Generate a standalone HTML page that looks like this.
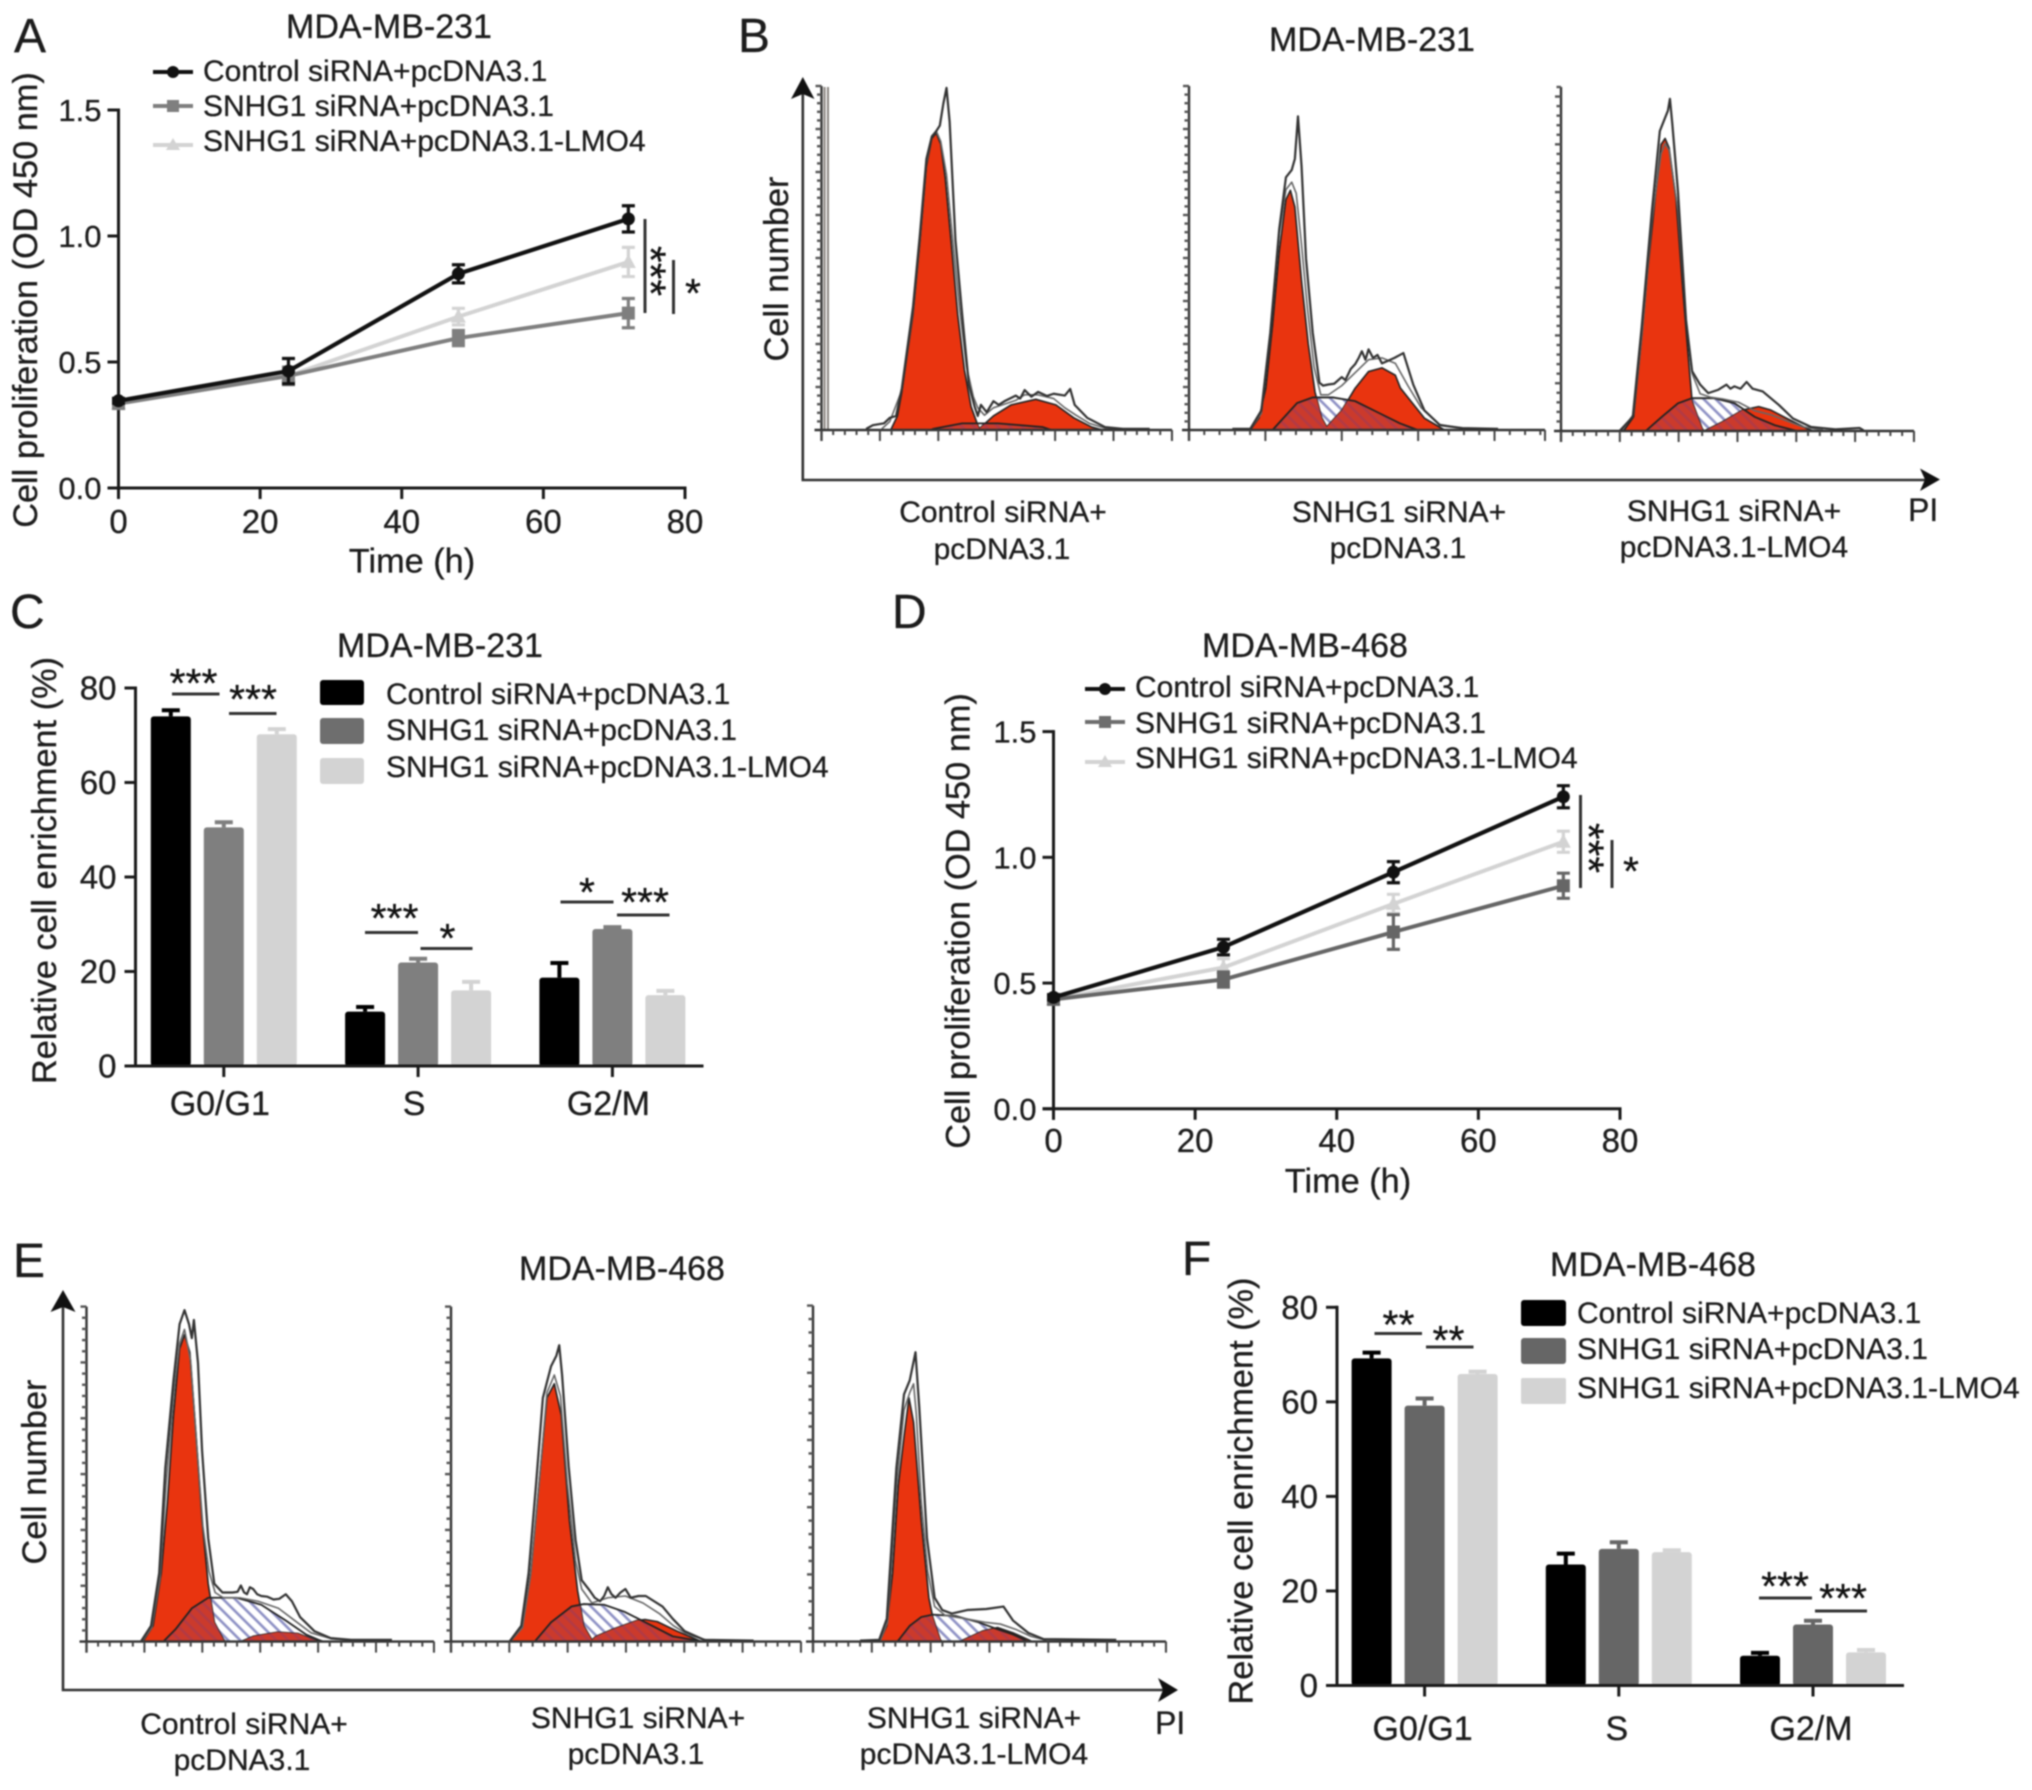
<!DOCTYPE html>
<html lang="en">
<head>
<meta charset="utf-8">
<title>Figure panels A-F</title>
<style>
html,body{margin:0;padding:0;background:#fff;}
svg{display:block;filter:blur(0.7px);}
text{font-family:"Liberation Sans",sans-serif;fill:#1c1c1c;stroke:#1c1c1c;stroke-width:0.3px;}
.t{font-size:34px;text-anchor:middle;}
.l{font-size:30px;}
.c{font-size:30px;text-anchor:middle;}
.p{font-size:48px;}
.y{font-size:34.3px;text-anchor:middle;}
.s{font-size:41px;text-anchor:middle;fill:#111;}
.sig{stroke:#333;stroke-width:3;fill:none;}
</style>
</head>
<body>
<svg id="fig" xmlns="http://www.w3.org/2000/svg" width="2032" height="1790" viewBox="0 0 2032 1790">
<defs>
<pattern id="hatch" patternUnits="userSpaceOnUse" width="8.5" height="8.5" patternTransform="rotate(45)"><rect width="8.5" height="8.5" fill="#fff"/><line x1="0" y1="4" x2="8.5" y2="4" stroke="#8d90c4" stroke-width="2.6"/></pattern>
<pattern id="hatchDark" patternUnits="userSpaceOnUse" width="8.5" height="8.5" patternTransform="rotate(45)"><rect width="8.5" height="8.5" fill="#cb3a2c"/><line x1="0" y1="4" x2="8.5" y2="4" stroke="#b23a45" stroke-width="2.6"/></pattern>
</defs>

<!-- Panel letters -->
<text class="p" x="14" y="52">A</text>
<text class="p" x="738" y="52">B</text>
<text class="p" x="10" y="628">C</text>
<text class="p" x="892" y="628">D</text>
<text class="p" x="13" y="1277">E</text>
<text class="p" x="1182" y="1275">F</text>

<!-- Panel titles -->
<text class="t" x="389" y="38">MDA-MB-231</text>
<text class="t" x="1372" y="51">MDA-MB-231</text>
<text class="t" x="440" y="657">MDA-MB-231</text>
<text class="t" x="1305" y="657">MDA-MB-468</text>
<text class="t" x="622" y="1280">MDA-MB-468</text>
<text class="t" x="1653" y="1276">MDA-MB-468</text>

<!-- Panel A static -->
<g>
<line x1="153" y1="72" x2="193" y2="72" stroke="#111" stroke-width="4"/><circle cx="173" cy="72" r="6" fill="#111"/>
<text class="l" x="203" y="81">Control siRNA+pcDNA3.1</text>
<line x1="153" y1="106" x2="193" y2="106" stroke="#7f7f7f" stroke-width="4"/><rect x="167" y="100" width="12" height="12" fill="#7f7f7f"/>
<text class="l" x="203" y="116">SNHG1 siRNA+pcDNA3.1</text>
<line x1="153" y1="145" x2="193" y2="145" stroke="#d3d3d3" stroke-width="4"/><polygon points="173,138 180,150 166,150" fill="#d3d3d3"/>
<text class="l" x="203" y="151">SNHG1 siRNA+pcDNA3.1-LMO4</text>
</g>
<text class="y" transform="rotate(-90 37 300)" x="37" y="300">Cell proliferation (OD 450 nm)</text>
<text class="y" x="412" y="572.5">Time (h)</text>
<line class="sig" x1="645" y1="219" x2="645" y2="313"/>
<text class="s" style="font-size:43px" transform="rotate(90 660 271)" x="660" y="295">***</text>
<line class="sig" x1="673.5" y1="260" x2="673.5" y2="314"/>
<text class="s" x="693" y="307">*</text>

<!-- Panel D static -->
<g>
<line x1="1085" y1="689" x2="1125" y2="689" stroke="#111" stroke-width="4"/><circle cx="1105" cy="689" r="6" fill="#111"/>
<text class="l" x="1135" y="697">Control siRNA+pcDNA3.1</text>
<line x1="1085" y1="722" x2="1125" y2="722" stroke="#6e6e6e" stroke-width="4"/><rect x="1099" y="716" width="12" height="12" fill="#6e6e6e"/>
<text class="l" x="1135" y="733">SNHG1 siRNA+pcDNA3.1</text>
<line x1="1085" y1="762" x2="1125" y2="762" stroke="#d3d3d3" stroke-width="4"/><polygon points="1105,755 1112,767 1098,767" fill="#d3d3d3"/>
<text class="l" x="1135" y="768">SNHG1 siRNA+pcDNA3.1-LMO4</text>
</g>
<text class="y" transform="rotate(-90 969.5 921)" x="969.5" y="921">Cell proliferation (OD 450 nm)</text>
<text class="y" x="1348" y="1192.5">Time (h)</text>
<line class="sig" x1="1580.5" y1="795" x2="1580.5" y2="888"/>
<text class="s" style="font-size:43px" transform="rotate(90 1598 848)" x="1598" y="872">***</text>
<line class="sig" x1="1612" y1="840" x2="1612" y2="888"/>
<text class="s" x="1631" y="885">*</text>

<!-- Panel C static -->
<g>
<rect x="320" y="680" width="44" height="25" rx="3" fill="#000"/>
<text class="l" x="386" y="704">Control siRNA+pcDNA3.1</text>
<rect x="320" y="718" width="44" height="26" rx="3" fill="#6e6e6e"/>
<text class="l" x="386" y="740">SNHG1 siRNA+pcDNA3.1</text>
<rect x="320" y="758" width="44" height="26" rx="3" fill="#d3d3d3"/>
<text class="l" x="386" y="777">SNHG1 siRNA+pcDNA3.1-LMO4</text>
</g>
<text class="y" transform="rotate(-90 56 870.5)" x="56" y="870.5">Relative cell enrichment (%)</text>
<g>
<line class="sig" x1="172" y1="694" x2="219.5" y2="694"/><text class="s" x="193.5" y="697">***</text>
<line class="sig" x1="229" y1="713.5" x2="276.5" y2="713.5"/><text class="s" x="253" y="713">***</text>
<line class="sig" x1="365" y1="932.5" x2="418" y2="932.5"/><text class="s" x="394.5" y="932">***</text>
<line class="sig" x1="420.5" y1="948.5" x2="472.5" y2="948.5"/><text class="s" x="447.5" y="952">*</text>
<line class="sig" x1="560.5" y1="902" x2="613.5" y2="902"/><text class="s" x="587" y="906">*</text>
<line class="sig" x1="617" y1="915" x2="669.5" y2="915"/><text class="s" x="645" y="916">***</text>
</g>

<!-- Panel F static -->
<g>
<rect x="1521" y="1300" width="45" height="26" rx="3" fill="#000"/>
<text class="l" x="1577" y="1323">Control siRNA+pcDNA3.1</text>
<rect x="1521" y="1338" width="45" height="26" rx="3" fill="#666"/>
<text class="l" x="1577" y="1359">SNHG1 siRNA+pcDNA3.1</text>
<rect x="1521" y="1378" width="45" height="26" rx="2" fill="#d3d3d3"/>
<text class="l" x="1577" y="1398">SNHG1 siRNA+pcDNA3.1-LMO4</text>
</g>
<text class="y" transform="rotate(-90 1252.5 1491)" x="1252.5" y="1491">Relative cell enrichment (%)</text>
<g>
<line class="sig" x1="1374.5" y1="1333.5" x2="1422" y2="1333.5"/><text class="s" x="1398.5" y="1338.5">**</text>
<line class="sig" x1="1426" y1="1347" x2="1473.5" y2="1347"/><text class="s" x="1448.5" y="1354">**</text>
<line class="sig" x1="1759" y1="1598" x2="1812" y2="1598"/><text class="s" x="1785" y="1600">***</text>
<line class="sig" x1="1815" y1="1611" x2="1867" y2="1611"/><text class="s" x="1843" y="1612">***</text>
</g>

<!-- Panel B static -->
<g>
<path d="M802.8 90V480H1925" fill="none" stroke="#333" stroke-width="2.6"/>
<polygon points="802.8,77 814.5,99 802.8,94 791,99" fill="#111"/>
<polygon points="1940,479.5 1920,468.5 1925,479.5 1920,491" fill="#111"/>
</g>
<line x1="824.6" y1="87" x2="824.6" y2="430" stroke="#8a8580" stroke-width="2"/>
<line x1="828" y1="87" x2="828" y2="430" stroke="#8a8580" stroke-width="2"/>
<text class="y" transform="rotate(-90 788 269)" x="788" y="269">Cell number</text>
<text class="c" x="1003" y="522">Control siRNA+</text>
<text class="c" x="1002" y="559">pcDNA3.1</text>
<text class="c" x="1399" y="522">SNHG1 siRNA+</text>
<text class="c" x="1398" y="558">pcDNA3.1</text>
<text class="c" x="1734" y="521">SNHG1 siRNA+</text>
<text class="c" x="1734" y="557">pcDNA3.1-LMO4</text>
<text class="l" style="font-size:32px" x="1908" y="521">PI</text>

<!-- Panel E static -->
<g>
<path d="M63 1302V1690H1163" fill="none" stroke="#333" stroke-width="2.6"/>
<polygon points="63,1290 75.5,1312 63,1307 50.5,1312" fill="#111"/>
<polygon points="1178,1690 1158,1678 1163,1690 1158,1702" fill="#111"/>
</g>
<text class="y" transform="rotate(-90 46 1472)" x="46" y="1472">Cell number</text>
<text class="c" x="244" y="1734">Control siRNA+</text>
<text class="c" x="242" y="1770">pcDNA3.1</text>
<text class="c" x="638" y="1728">SNHG1 siRNA+</text>
<text class="c" x="636" y="1764">pcDNA3.1</text>
<text class="c" x="974" y="1728">SNHG1 siRNA+</text>
<text class="c" x="974" y="1764">pcDNA3.1-LMO4</text>
<text class="l" style="font-size:32px" x="1155" y="1734">PI</text>
</svg>

<script>
// ---------- Proliferation data (OD 450 nm vs hours) ----------
const timePoints = [0, 24, 48, 72];
const timeTicks = [0, 20, 40, 60, 80];
const odTicks = [0, 0.5, 1.0, 1.5];
const odTickLabels = ['0.0', '0.5', '1.0', '1.5'];

const aControl = [0.346, 0.464, 0.85, 1.068];
const aControlErr = [0.01, 0.05, 0.036, 0.052];
const aSnhg1 = [0.335, 0.445, 0.595, 0.694];
const aSnhg1Err = [0.01, 0.035, 0.03, 0.058];
const aLmo4 = [0.335, 0.445, 0.68, 0.897];
const aLmo4Err = [0.01, 0.03, 0.033, 0.058];

const dControl = [0.443, 0.643, 0.941, 1.241];
const dControlErr = [0.01, 0.031, 0.042, 0.044];
const dSnhg1 = [0.435, 0.514, 0.703, 0.887];
const dSnhg1Err = [0.01, 0.03, 0.069, 0.05];
const dLmo4 = [0.435, 0.562, 0.815, 1.062];
const dLmo4Err = [0.01, 0.035, 0.038, 0.042];

// ---------- Cell-cycle enrichment data (%) ----------
const phases = ['G0/G1', 'S', 'G2/M'];
const enrichTicks = [0, 20, 40, 60, 80];

const cControl = [74, 11.5, 18.7];
const cControlErr = [1.3, 1.0, 3.1];
const cSnhg1 = [50.5, 21.9, 29];
const cSnhg1Err = [1.1, 0.8, 0.4];
const cLmo4 = [70.2, 16, 15];
const cLmo4Err = [1.1, 1.8, 0.9];

const fControl = [69.2, 25.6, 6.3];
const fControlErr = [1.2, 2.3, 0.6];
const fSnhg1 = [59.2, 28.9, 12.9];
const fSnhg1Err = [1.5, 1.4, 0.8];
const fLmo4 = [65.9, 28.2, 7];
const fLmo4Err = [0.5, 0.4, 0.5];

// ---------- Flow histograms: [PI channel, cell count] ----------
const b1G1 = [[155,0],[170,38],[180,103],[193,213],[205,313],[220,503],[235,713],[247,788],[257,803],[267,773],[277,683],[290,513],[305,313],[320,163],[335,63],[350,13],[355,0]];
const b1S = [[245,0],[250,3],[315,18],[395,18],[495,8],[515,0]];
const b1G2 = [[350,0],[385,38],[425,68],[480,83],[525,68],[565,33],[605,8],[630,0]];
const b1Env1 = [[100,3],[115,13],[140,18],[153,33],[167,38],[180,113],[205,333],[220,523],[235,733],[247,793],[257,808],[265,823],[273,883],[280,925],[287,833],[300,513],[315,313],[330,123],[343,63],[350,38],[357,68],[370,48],[385,78],[397,68],[410,78],[435,93],[445,85],[455,108],[470,90],[485,103],[505,92],[520,98],[545,93],[557,111],[567,68],[595,33],[635,8],[675,3],[735,3]];
const b1Env2 = [[135,3],[153,23],[180,108],[205,320],[220,510],[235,720],[247,795],[257,808],[267,780],[280,690],[295,500],[310,320],[325,170],[340,90],[350,60],[365,40],[385,60],[410,70],[435,80],[455,95],[485,95],[520,85],[545,60],[570,40],[600,18],[635,5],[700,2]];

const b2G1 = [[137,0],[157,33],[172,113],[187,283],[202,483],[217,623],[227,648],[237,603],[252,403],[267,233],[282,103],[297,33],[312,0]];
const b2S = [[187,0],[212,33],[242,73],[277,88],[322,88],[372,78],[422,48],[472,18],[512,0]];
const b2G2 = [[302,0],[342,53],[372,113],[402,158],[432,168],[462,148],[473,114],[527,32],[572,0]];
const b2Env1 = [[97,3],[137,3],[162,53],[182,263],[202,543],[217,683],[230,703],[237,733],[244,848],[252,713],[262,463],[277,263],[292,128],[300,120],[312,123],[325,125],[342,143],[350,135],[362,165],[372,178],[380,195],[387,213],[395,190],[402,218],[412,195],[422,203],[432,180],[447,188],[460,195],[480,208],[502,123],[527,53],[562,13],[612,5],[692,3]];
const b2Env2 = [[137,2],[162,45],[182,255],[202,530],[217,650],[230,670],[240,640],[252,500],[265,330],[280,170],[295,95],[312,95],[342,120],[372,155],[402,190],[432,195],[462,180],[490,120],[520,60],[560,15],[620,3]];

const b3G1 = [[155,0],[180,42],[200,277],[215,477],[235,707],[248,847],[258,865],[268,837],[285,687],[300,447],[315,227],[325,87],[350,7],[355,0]];
const b3S = [[210,0],[250,42],[290,82],[325,97],[380,97],[430,82],[480,42],[530,17],[585,0]];
const b3G2 = [[355,0],[400,27],[450,62],[490,72],[520,62],[560,37],[610,7],[625,0]];
const b3Env1 = [[145,0],[178,42],[200,307],[225,647],[245,887],[255,917],[265,947],[270,982],[276,907],[290,707],[310,327],[325,177],[345,137],[365,112],[390,122],[410,137],[420,125],[430,132],[445,125],[460,145],[475,125],[500,117],[540,77],[575,37],[620,12],[680,5],[740,9],[750,2]];
const b3Env2 = [[150,0],[180,50],[202,300],[225,620],[248,820],[258,850],[268,830],[290,650],[310,330],[325,170],[345,110],[370,100],[400,95],[440,85],[480,60],[520,48],[560,30],[600,12],[650,3]];

const e1G1 = [[138,0],[163,45],[183,195],[198,395],[213,645],[228,835],[240,875],[253,825],[268,595],[283,345],[298,165],[313,55],[336,5],[340,0]];
const e1S = [[188,0],[218,35],[258,95],[298,125],[368,125],[428,105],[488,60],[538,20],[568,5],[580,0]];
const e1G2 = [[378,0],[408,15],[468,27],[518,23],[558,5],[578,0]];
const e1Env1 = [[133,0],[158,45],[178,195],[193,495],[213,745],[228,905],[240,945],[251,905],[258,865],[263,917],[273,795],[283,545],[298,295],[313,165],[333,140],[345,140],[358,140],[370,142],[378,160],[386,140],[393,135],[400,155],[408,150],[418,135],[428,130],[443,128],[458,120],[472,122],[488,135],[503,115],[523,70],[558,30],[598,10],[648,5],[748,5]];
const e1Env2 = [[136,0],[160,40],[180,180],[195,450],[213,700],[228,850],[240,890],[255,800],[270,560],[285,330],[300,200],[315,140],[335,125],[375,125],[420,115],[470,95],[510,60],[550,25],[600,8],[680,3]];

const e2G1 = [[145,0],[175,45],[195,195],[215,445],[235,695],[253,735],[270,645],[290,345],[310,145],[325,45],[345,5],[350,0]];
const e2S = [[205,0],[245,55],[295,100],[325,107],[375,105],[425,85],[459,65],[543,15],[609,2],[620,0]];
const e2G2 = [[340,0],[355,15],[395,35],[455,60],[475,63],[505,57],[553,30],[609,2],[615,0]];
const e2Env1 = [[143,0],[172,45],[190,195],[208,445],[225,695],[245,785],[258,815],[265,845],[272,760],[288,500],[305,290],[320,175],[340,145],[352,125],[365,115],[375,130],[384,155],[393,135],[403,125],[415,140],[427,150],[440,125],[459,130],[477,130],[518,100],[543,65],[572,30],[620,5],[741,3]];
const e2Env2 = [[145,0],[175,40],[195,190],[215,440],[235,710],[253,760],[268,700],[285,450],[305,230],[320,150],[345,110],[384,125],[427,130],[470,110],[510,80],[545,45],[580,20],[630,3]];

const e3G1 = [[170,0],[176,5],[193,45],[208,195],[223,445],[238,585],[251,695],[263,625],[283,345],[303,125],[313,70],[333,5],[338,0]];
const e3S = [[220,0],[223,3],[253,45],[283,70],[313,77],[373,73],[433,55],[483,35],[523,20],[553,5],[560,0]];
const e3G2 = [[385,0],[393,5],[443,30],[483,40],[523,25],[568,3],[572,0]];
const e3Env1 = [[123,3],[173,5],[193,65],[218,495],[238,705],[253,745],[268,825],[278,665],[298,295],[318,125],[338,90],[363,80],[403,90],[453,93],[498,100],[523,60],[563,25],[603,7],[793,5]];
const e3Env2 = [[176,3],[195,55],[220,460],[238,660],[253,710],[263,735],[270,650],[283,400],[300,200],[318,100],[345,75],[400,65],[450,55],[490,50],[530,35],[570,15],[610,4]];

// ---------- Drawing helpers ----------
const SVGNS = 'http://www.w3.org/2000/svg';
const fig = document.getElementById('fig');
function make(tag, attrs, parent) {
  const el = document.createElementNS(SVGNS, tag);
  for (const k in attrs) el.setAttribute(k, attrs[k]);
  (parent || fig).appendChild(el);
  return el;
}
function newGroup(name) {
  const g = make('g', {});
  
  
  return g;
}
function axisLine(g, x1, y1, x2, y2, w, color) {
  const el = make('line', {x1, y1, x2, y2, stroke: color || '#1a1a1a', 'stroke-width': w || 3}, g);
  
  
  return el;
}
function tickText(g, str, x, y, anchor, size) {
  const el = make('text', {x, y, 'text-anchor': anchor, 'font-size': size}, g);
  el.textContent = str;
  
  
  return el;
}

function drawMarker(g, shape, x, y, color) {
  if (shape === 'circle') {
    const m = make('circle', {cx: x, cy: y, r: 6.5, fill: color}, g);
    
    
  } else if (shape === 'square') {
    const m = make('rect', {x: x - 6.5, y: y - 6.5, width: 13, height: 13, fill: color}, g);
    
    
  } else {
    const m = make('polygon', {points: (x) + ',' + (y - 8) + ' ' + (x + 7.5) + ',' + (y + 6) + ' ' + (x - 7.5) + ',' + (y + 6), fill: color}, g);
    
    
  }
}

function drawLineSeries(g, sx, sy, values, errors, color, shape, width) {
  const pts = timePoints.map((t, i) => sx(t) + ',' + sy(values[i])).join(' ');
  const line = make('polyline', {points: pts, fill: 'none', stroke: color, 'stroke-width': width, 'stroke-linejoin': 'round'}, g);
  
  
  timePoints.forEach((t, i) => {
    const x = sx(t), top = sy(values[i] + errors[i]), bot = sy(values[i] - errors[i]);
    const eb = make('path', {d: 'M' + (x - 6.5) + ' ' + top + 'H' + (x + 6.5) + 'M' + x + ' ' + top + 'V' + bot + 'M' + (x - 6.5) + ' ' + bot + 'H' + (x + 6.5), fill: 'none', stroke: color, 'stroke-width': 3.2}, g);
    
    
    drawMarker(g, shape, x, sy(values[i]), color);
  });
}

function drawLinePanel(name, geom, control, controlErr, snhg1, snhg1Err, lmo4, lmo4Err, midColor) {
  const g = newGroup(name);
  const sx = v => geom.x0 + (v / 80) * (geom.x1 - geom.x0);
  const sy = v => geom.y0 + (v / 1.5) * (geom.y1 - geom.y0);
  axisLine(g, sx(0), sy(1.5) - 1.5, sx(0), sy(0) + 11);
  axisLine(g, sx(0) - 11, sy(0), sx(80) + 1.5, sy(0));
  timeTicks.forEach(t => {
    axisLine(g, sx(t), sy(0), sx(t), sy(0) + 11);
    tickText(g, String(t), sx(t), geom.xLabelY, 'middle', 33);
  });
  odTicks.forEach((v, i) => {
    axisLine(g, sx(0) - 11, sy(v), sx(0), sy(v));
    tickText(g, odTickLabels[i], sx(0) - 17, sy(v) + 11, 'end', 31);
  });
  drawLineSeries(g, sx, sy, lmo4, lmo4Err, '#d3d3d3', 'triangle', 4);
  drawLineSeries(g, sx, sy, snhg1, snhg1Err, midColor, 'square', 4);
  drawLineSeries(g, sx, sy, control, controlErr, '#111', 'circle', 4.2);
}

function drawBars(g, sy, base, centers, offset, values, errors, color) {
  values.forEach((v, i) => {
    const x = centers[i] + offset;
    const r = make('rect', {x: x - 20, y: sy(v), width: 40, height: base - sy(v), rx: 3, fill: color}, g);
    
    
    const t = sy(v + errors[i]);
    const e = make('path', {d: 'M' + (x - 9) + ' ' + t + 'H' + (x + 9) + 'M' + x + ' ' + t + 'V' + sy(v), fill: 'none', stroke: color, 'stroke-width': 4}, g);
    
    
  });
}

function drawBarPanel(name, geom, control, controlErr, snhg1, snhg1Err, lmo4, lmo4Err, midColor) {
  const g = newGroup(name);
  const sy = v => geom.y0 + (v / 80) * (geom.y80 - geom.y0);
  const centers = phases.map((p, i) => geom.c0 + i * geom.step);
  drawBars(g, sy, geom.y0, centers, -53, control, controlErr, '#000');
  drawBars(g, sy, geom.y0, centers, 0, snhg1, snhg1Err, midColor);
  drawBars(g, sy, geom.y0, centers, 53, lmo4, lmo4Err, '#d3d3d3');
  axisLine(g, geom.ax, sy(80) - 1.5, geom.ax, geom.y0);
  axisLine(g, geom.ax - 11, geom.y0, geom.xEnd, geom.y0);
  enrichTicks.forEach(v => {
    axisLine(g, geom.ax - 11, sy(v), geom.ax, sy(v));
    tickText(g, String(v), geom.ax - 19, sy(v) + 11.5, 'end', 33);
  });
  phases.forEach((p, i) => {
    axisLine(g, centers[i], geom.y0, centers[i], geom.y0 + 11);
    tickText(g, p, centers[i] + geom.labelShift, geom.labelY, 'middle', 34);
  });
}

let histId = 0;
function drawHistogram(name, geom, g1, s, g2, env1, env2) {
  const g = newGroup(name);
  const sx = ch => geom.left + (ch / geom.chMax) * (geom.right - geom.left);
  const sy = c => geom.base - (c / geom.cntMax) * (geom.base - geom.top);
  const toPts = arr => arr.map(p => sx(p[0]) + ',' + sy(p[1])).join(' ');
  histId++;
  const clip = make('clipPath', {id: 'redClip' + histId}, g);
  make('polygon', {points: toPts(g1)}, clip);
  make('polygon', {points: toPts(g2)}, clip);

  const sArea = make('polygon', {points: toPts(s), fill: 'url(#hatch)'}, g);
  
  
  const g1Area = make('polygon', {points: toPts(g1), fill: '#e9340f', stroke: '#222', 'stroke-width': 1.6, 'stroke-linejoin': 'round'}, g);
  
  
  const g2Area = make('polygon', {points: toPts(g2), fill: '#e9340f', stroke: '#222', 'stroke-width': 1.6, 'stroke-linejoin': 'round'}, g);
  
  
  const overlap = make('polygon', {points: toPts(s), fill: 'url(#hatchDark)', 'clip-path': 'url(#redClip' + histId + ')'}, g);
  
  
  const sOutline = make('polyline', {points: toPts(s), fill: 'none', stroke: '#222', 'stroke-width': 1.8}, g);
  
  
  const e2 = make('polyline', {points: toPts(env2), fill: 'none', stroke: '#666', 'stroke-width': 1.6, 'stroke-linejoin': 'round'}, g);
  
  
  const e1 = make('polyline', {points: toPts(env1), fill: 'none', stroke: '#333', 'stroke-width': 2.2, 'stroke-linejoin': 'round'}, g);
  
  

  axisLine(g, geom.left, geom.top, geom.left, geom.base + 11, 2.4, '#333');
  axisLine(g, geom.left - 7, geom.base, geom.right, geom.base, 2.4, '#333');
  for (let i = 0, ch = 0; ch <= geom.chMax + 0.5; i++, ch += geom.majorStep / 5) {
    const major = i % 5 === 0;
    axisLine(g, sx(ch), geom.base, sx(ch), geom.base + (major ? 11 : 5), 2, '#444');
  }
  axisLine(g, geom.right, geom.base, geom.right, geom.base + 11, 2, '#444');
  const dy = (geom.base - geom.top) / geom.yDiv;
  for (let i = 1; i <= geom.yDiv; i++) {
    const y = geom.base - i * dy;
    axisLine(g, geom.left - (i % 5 === 0 ? 6 : 4.5), y, geom.left, y, 2.4, '#555');
  }
}

// ---------- Build panels ----------
drawLinePanel('panel-a-proliferation-chart', {x0: 118.5, x1: 685, y0: 488, y1: 110, xLabelY: 533}, aControl, aControlErr, aSnhg1, aSnhg1Err, aLmo4, aLmo4Err, '#7f7f7f');
drawLinePanel('panel-d-proliferation-chart', {x0: 1053.5, x1: 1620, y0: 1108.8, y1: 731.6, xLabelY: 1152}, dControl, dControlErr, dSnhg1, dSnhg1Err, dLmo4, dLmo4Err, '#666');
drawBarPanel('panel-c-cell-cycle-bars', {ax: 135.5, y0: 1066, y80: 688, xEnd: 703.5, c0: 223.8, step: 194.3, labelY: 1115, labelShift: -4}, cControl, cControlErr, cSnhg1, cSnhg1Err, cLmo4, cLmo4Err, '#7f7f7f');
drawBarPanel('panel-f-cell-cycle-bars', {ax: 1337, y0: 1685.5, y80: 1307.3, xEnd: 1904, c0: 1424.6, step: 194.2, labelY: 1740, labelShift: -2}, fControl, fControlErr, fSnhg1, fSnhg1Err, fLmo4, fLmo4Err, '#666');

drawHistogram('panel-b-histogram-control', {left: 821.5, right: 1172, top: 86, base: 430, chMax: 785, cntMax: 930, majorStep: 130.8, yDiv: 40}, b1G1, b1S, b1G2, b1Env1, b1Env2);
drawHistogram('panel-b-histogram-snhg1', {left: 1189, right: 1545, top: 86, base: 430, chMax: 797, cntMax: 930, majorStep: 171, yDiv: 40}, b2G1, b2S, b2G2, b2Env1, b2Env2);
drawHistogram('panel-b-histogram-lmo4', {left: 1561, right: 1914, top: 87, base: 431, chMax: 875, cntMax: 1017, majorStep: 145.8, yDiv: 36}, b3G1, b3S, b3G2, b3Env1, b3Env2);
drawHistogram('panel-e-histogram-control', {left: 86.5, right: 434, top: 1306.6, base: 1641.6, chMax: 851, cntMax: 955, majorStep: 141.8, yDiv: 30}, e1G1, e1S, e1G2, e1Env1, e1Env2);
drawHistogram('panel-e-histogram-snhg1', {left: 451, right: 801, top: 1306.6, base: 1641.6, chMax: 857, cntMax: 955, majorStep: 142.8, yDiv: 30}, e2G1, e2S, e2G2, e2Env1, e2Env2);
drawHistogram('panel-e-histogram-lmo4', {left: 813, right: 1166, top: 1305.6, base: 1641.6, chMax: 923, cntMax: 958, majorStep: 153.8, yDiv: 25}, e3G1, e3S, e3G2, e3Env1, e3Env2);
</script>
</body>
</html>
